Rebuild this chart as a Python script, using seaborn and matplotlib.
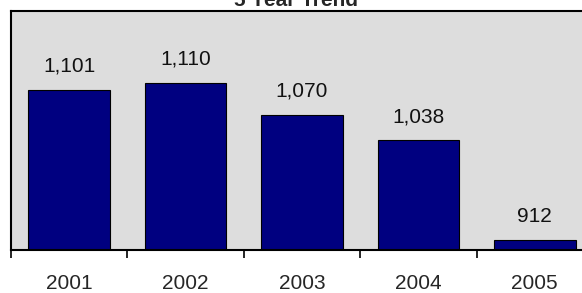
import matplotlib
matplotlib.use("Agg")
import matplotlib.pyplot as plt
import seaborn as sns
import pandas as pd

years = ["2001", "2002", "2003", "2004", "2005"]
values = [1101, 1110, 1070, 1038, 912]
title = "5 Year Trend"

df = pd.DataFrame({"year": years, "value": values})

sns.set_style("white")
plt.rcParams["font.family"] = ["Liberation Sans", "DejaVu Sans"]

fig = plt.figure(figsize=(5.82, 2.93), dpi=100)
ax = fig.add_axes([11 / 582, 43 / 293, 582 / 582, 239 / 293])
ax.set_facecolor("#dddddd")

sns.barplot(data=df, x="year", y="value", color="#000080", saturation=1,
            edgecolor="black", linewidth=0.8, width=0.7, ax=ax)

ax.set_ylim(900, 1200)
ax.set_xlim(-0.5, 4.5)
ax.set_xlabel("")
ax.set_ylabel("")
ax.set_yticks([])

# ticks between categories, labels centred without ticks
ax.set_xticks([i - 0.5 for i in range(len(years) + 1)])
ax.set_xticklabels([])
ax.tick_params(axis="x", which="major", direction="out", length=6, width=1.2, color="black", bottom=True)
ax.set_xticks(range(len(years)), minor=True)
ax.set_xticklabels(years, minor=True)
ax.tick_params(axis="x", which="minor", length=0, pad=17, labelsize=15)

for side in ["left", "top", "bottom"]:
    ax.spines[side].set_visible(True)
    ax.spines[side].set_color("black")
    ax.spines[side].set_linewidth(1.5)
ax.spines["right"].set_visible(False)

for i, v in enumerate(values):
    ax.annotate(f"{v:,}", xy=(i, v), xytext=(0, 13), textcoords="offset points",
                ha="center", va="baseline", fontsize=15, color="#111111")

fig.text(296 / 582, 1 - 6 / 293, title, ha="center", va="baseline",
         fontsize=15, fontweight="bold")

fig.savefig("out.png", dpi=100)
